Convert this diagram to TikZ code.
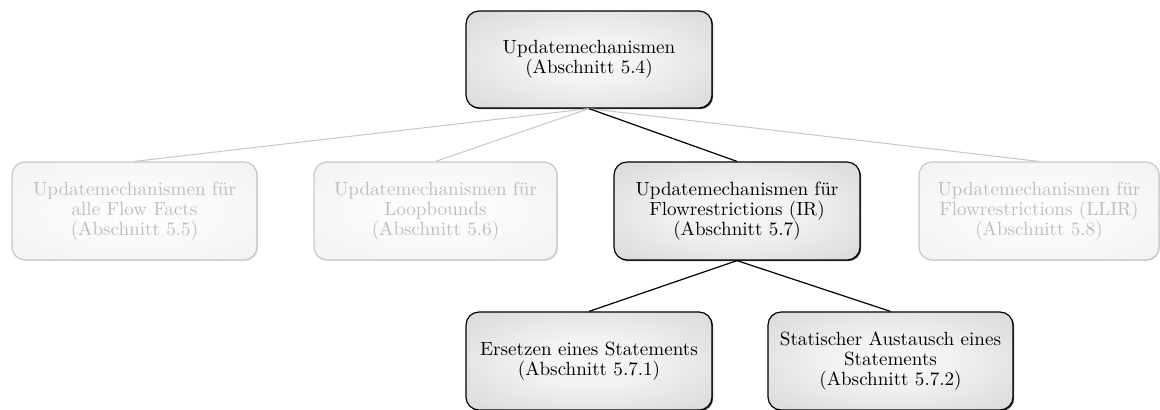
\documentclass[tikz,border=0pt]{standalone}
\usetikzlibrary{shadows}
\pgfdeclareradialshading{boxshade}{\pgfpoint{0bp}{0bp}}{%
  color(0bp)=(black!3); color(12bp)=(black!5); color(50bp)=(black!21); color(72bp)=(black!28)}
\pgfdeclareradialshading{paleshade}{\pgfpoint{0bp}{0bp}}{%
  color(0bp)=(white); color(50bp)=(black!7); color(72bp)=(black!9)}
\tikzset{
  box/.style={rectangle, rounded corners=6.5pt, draw=black, line width=0.6pt,
    shading=boxshade, align=center, inner sep=0pt,
    font=\fontsize{9.55pt}{9.9pt}\selectfont,
    drop shadow={shadow xshift=0.6pt, shadow yshift=-0.6pt, opacity=0.75, fill=black}},
  palebox/.style={rectangle, rounded corners=6.5pt, draw=black!22, line width=0.6pt,
    shading=paleshade, align=center, inner sep=0pt, text=black!26,
    font=\fontsize{9.55pt}{9.9pt}\selectfont,
    drop shadow={shadow xshift=0.5pt, shadow yshift=-0.5pt, opacity=0.12, fill=black}},
  link/.style={line width=0.6pt, draw=black},
  palelink/.style={line width=0.5pt, draw=black!22},
}
\begin{document}
\begin{tikzpicture}[x=0.5pt, y=-0.5pt]
  \useasboundingbox (0,0) rectangle (1160,409);

  % root
  \node[box, minimum width=123pt, minimum height=48.5pt] (root) at (589,59.5)
    {Updatemechanismen\\(Abschnitt 5.4)};

  % second level
  \node[palebox, minimum width=122.5pt, minimum height=49pt] (all) at (134.5,211)
    {Updatemechanismen für\\alle Flow Facts\\(Abschnitt 5.5)};
  \node[palebox, minimum width=121.5pt, minimum height=49pt] (loop) at (435.5,211)
    {Updatemechanismen für\\Loopbounds\\(Abschnitt 5.6)};
  \node[box, minimum width=123pt, minimum height=49pt] (ir) at (737,211)
    {Updatemechanismen für\\Flowrestrictions (IR)\\(Abschnitt 5.7)};
  \node[palebox, minimum width=120pt, minimum height=49pt] (llir) at (1039,211)
    {Updatemechanismen für\\Flowrestrictions (LLIR)\\(Abschnitt 5.8)};

  % third level
  \node[box, minimum width=123pt, minimum height=49pt] (repl) at (589,361)
    {Ersetzen eines Statements\\(Abschnitt 5.7.1)};
  \node[box, minimum width=122.5pt, minimum height=49pt] (swap) at (890.5,361)
    {Statischer Austausch eines\\Statements\\(Abschnitt 5.7.2)};

  % connectors
  \draw[palelink] (root.south) -- (all.north);
  \draw[palelink] (root.south) -- (loop.north);
  \draw[palelink] (root.south) -- (llir.north);
  \draw[link] (root.south) -- (ir.north);
  \draw[link] (ir.south) -- (repl.north);
  \draw[link] (ir.south) -- (swap.north);
\end{tikzpicture}
\end{document}
